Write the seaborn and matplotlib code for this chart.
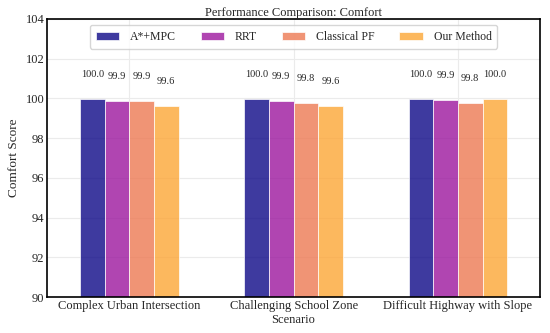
import numpy as np
import pandas as pd
import matplotlib
matplotlib.use("Agg")
import matplotlib.pyplot as plt
import seaborn as sns

scenarios = ["Complex Urban Intersection", "Challenging School Zone\nScenario", "Difficult Highway with Slope"]
methods = ["A*+MPC", "RRT", "Classical PF", "Our Method"]
astar_mpc = [99.98, 99.99, 99.99]
rrt = [99.88, 99.88, 99.94]
classical_pf = [99.87, 99.79, 99.79]
our_method = [99.62, 99.61, 99.98]
colors = ["#0d0887", "#9c179e", "#ed7953", "#fca636"]

sns.set_theme(style="whitegrid")
plt.rcParams['font.family'] = ['Liberation Serif', 'DejaVu Serif']

rows = []
for m, vals in zip(methods, [astar_mpc, rrt, classical_pf, our_method]):
    for s, v in zip(scenarios, vals):
        rows.append({"Scenario": s, "Method": m, "Score": v})
df = pd.DataFrame(rows)

fig, ax = plt.subplots(figsize=(5.5, 3.33), dpi=100)
sns.barplot(data=df, x="Scenario", y="Score", hue="Method", palette=colors,
            width=0.6, alpha=0.8, saturation=1, edgecolor="white", linewidth=0.6, ax=ax)

for p in ax.patches:
    h = p.get_height()
    if h > 0:
        ax.text(p.get_x() + p.get_width() / 2, h + 1.0, f"{h:.1f}",
                ha="center", va="bottom", fontsize=7.5)

ax.set_ylim(90, 104)
ax.set_yticks(np.arange(90, 105, 2))
ax.set_xlabel("")
ax.set_ylabel("Comfort Score", fontsize=9.5)
ax.set_title("Performance Comparison: Comfort", fontsize=9, pad=2)
ax.tick_params(axis="both", labelsize=9, length=0, pad=2)
ax.grid(True, color="#ebebeb", linewidth=0.8)
for sp in ax.spines.values():
    sp.set_color("black")
    sp.set_linewidth(1.2)
ax.legend(loc="upper center", ncol=4, fontsize=8.5, frameon=True,
          handlelength=2.0, handletextpad=0.9, columnspacing=2.1,
          borderpad=0.5, borderaxespad=0.5)

plt.subplots_adjust(left=0.0855, right=0.982, top=0.943, bottom=0.108)
fig.savefig("out.png", dpi=100)
